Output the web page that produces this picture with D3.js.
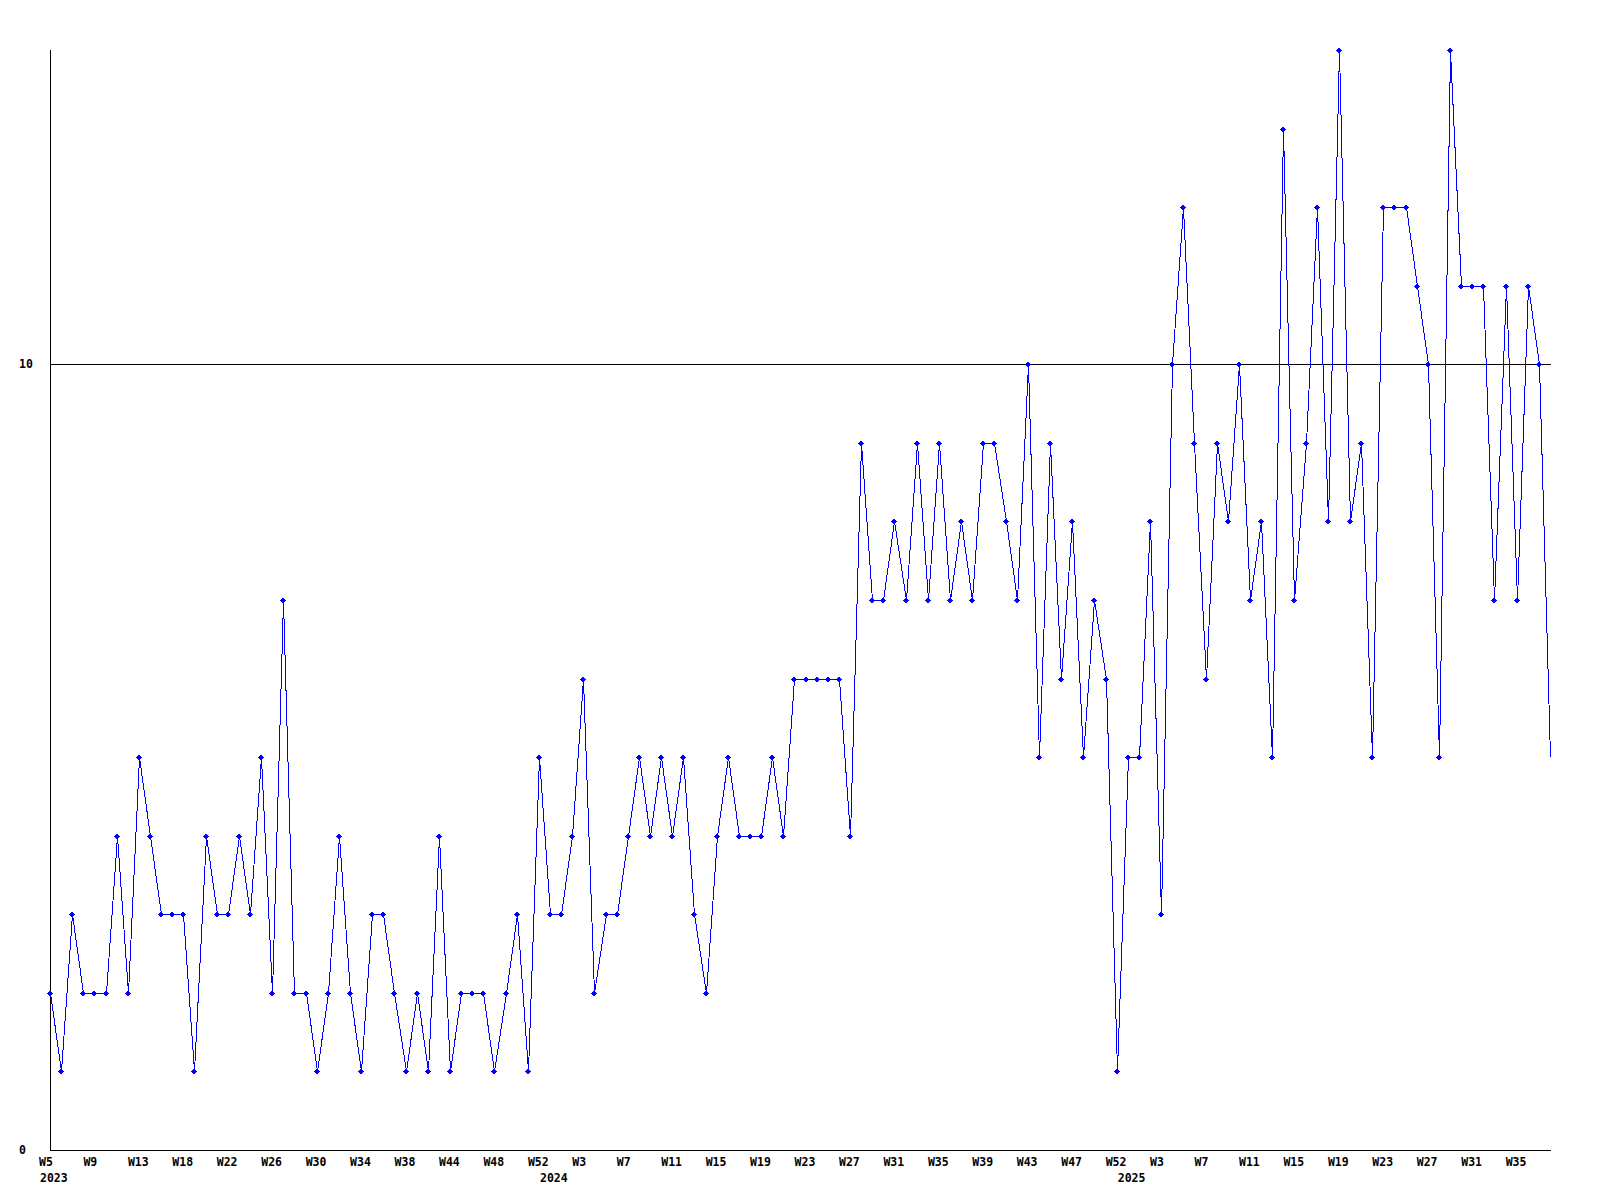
<!DOCTYPE html>
<html>
<head>
<meta charset="utf-8">
<script src="https://cdn.jsdelivr.net/npm/d3@7"></script>
<style>
	body { margin: 0; background: #fff; }
	text { font-family: "DejaVu Sans Mono", monospace; font-size: 11.5px; font-weight: bold; fill: #000; }
</style>
</head>
<body>
<div id="vis"></div>
<script>

// weekly counts, one array per year (some weeks missing in the source)
var counts2023 = [2,1,3,2,2,2,4,2,5,4,3,3,3,1,4,3,3,4,3,5,2,7,2,2,1,2,4,2,1,3,3,2,1,2,1,4,1,2,2,2,1,2,3,1,5];
var counts2024 = [3,3,4,6,2,3,3,4,5,4,5,4,5,3,2,4,5,4,4,4,5,4,6,6,6,6,6,4,9,7,7,8,7,9,7,9,7,8,7,9,9,8,7,10,5,9,6,8,5,7,6,1];
var counts2025 = [5,5,8,3,10,12,9,6,9,8,10,7,8,5,13,7,9,12,8,14,8,9,5,12,12,12,11,10,5,14,11,11,11,7,11,7,11,10,5];

// x labels, one every 4 points
var weekLabels = ["W5","W9","W13","W18","W22","W26","W30","W34","W38","W44","W48","W52",
	"W3","W7","W11","W15","W19","W23","W27","W31","W35","W39","W43","W47","W52",
	"W3","W7","W11","W15","W19","W23","W27","W31","W35"];
var yearLabels = ["2023","2024","2025"];
var yTicks = [0, 10];

var values = counts2023.concat(counts2024, counts2025);
var yearStart = [0, counts2023.length, counts2023.length + counts2024.length];

var width = 1600,
	height = 1200,
	plotLeft = 50, plotRight = 1550, plotTop = 50, plotBottom = 1150;

var x = d3.scaleLinear().domain([0, values.length - 1]).range([plotLeft, plotRight]),
	y = d3.scaleLinear().domain([0, 14]).range([plotBottom, plotTop]);

var svg = d3.select('#vis')
	.append('svg')
	.attr('width', width)
	.attr('height', height)
	.style('display', 'block');

svg.append('rect')
	.attr('width', width)
	.attr('height', height)
	.attr('fill', '#fff');

// axes + gridline at 10
svg.append('line')
	.attr('x1', plotLeft + 0.5).attr('x2', plotLeft + 0.5)
	.attr('y1', plotTop).attr('y2', plotBottom)
	.attr('stroke', '#000').attr('shape-rendering', 'crispEdges');

svg.selectAll('.hline')
	.data(yTicks)
	.enter()
	.append('line')
	.attr('class', 'hline')
	.attr('x1', plotLeft).attr('x2', plotRight + 1)
	.attr('y1', function(d) { return Math.round(y(d)) + 0.5; })
	.attr('y2', function(d) { return Math.round(y(d)) + 0.5; })
	.attr('stroke', '#000').attr('shape-rendering', 'crispEdges');

svg.selectAll('.ylab')
	.data(yTicks)
	.enter()
	.append('text')
	.attr('x', 19)
	.attr('y', function(d) { return y(d) + 4; })
	.text(function(d) { return d; });

svg.selectAll('.xlab')
	.data(weekLabels)
	.enter()
	.append('text')
	.attr('x', function(d, i) { return x(i * 4) - 11; })
	.attr('y', 1166)
	.text(function(d) { return d; });

svg.selectAll('.yearlab')
	.data(yearLabels)
	.enter()
	.append('text')
	.attr('x', function(d, i) { return x(yearStart[i]) - 10; })
	.attr('y', 1182)
	.text(function(d) { return d; });

// series
var line = d3.line()
	.x(function(d, i) { return Math.round(x(i)) + 0.5; })
	.y(function(d) { return Math.round(y(d)) + 0.5; });

svg.append('path')
	.datum(values)
	.attr('d', line)
	.attr('fill', 'none')
	.attr('stroke', '#0000ff')
	.attr('stroke-width', 1)
	.attr('shape-rendering', 'crispEdges');

// small plus markers (last one sits on the edge and is not drawn)
var marker = "M-2,-1h4v3h-4z M-3,0h6v1h-6z M-1,-2h2v5h-2z";
svg.selectAll('.pt')
	.data(values.slice(0, values.length - 1))
	.enter()
	.append('path')
	.attr('class', 'pt')
	.attr('d', marker)
	.attr('transform', function(d, i) { return 'translate(' + Math.round(x(i)) + ',' + Math.round(y(d)) + ')'; })
	.attr('fill', '#0000ff')
	.attr('shape-rendering', 'crispEdges');

</script>
</body>
</html>
